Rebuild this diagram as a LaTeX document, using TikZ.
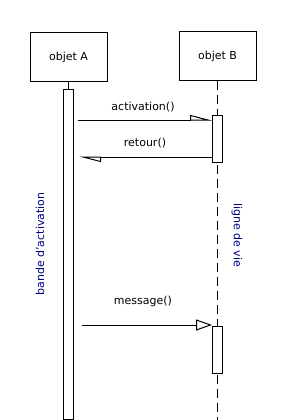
\documentclass[tikz,border=0pt]{standalone}
\usepackage{fontspec}
\setmainfont{DejaVu Sans}
\usetikzlibrary{arrows.meta}

\begin{document}
\begin{tikzpicture}[
    x=1pt, y=-1pt,
    font=\fontsize{11}{13}\selectfont,
    objet/.style={rectangle, draw, line width=1pt, minimum width=77pt, minimum height=48pt},
    bande/.style={rectangle, draw, fill=white, line width=1pt, minimum width=10pt, inner sep=0pt},
    vie/.style={line width=1pt, dash pattern=on 9pt off 5pt},
    appel/.style={line width=1pt, -{Triangle[open, left, length=20pt, width=10pt]}},
    asynch/.style={line width=1pt, -{Triangle[open, length=16pt, width=11pt]}},
    note/.style={text=blue!50!black}
]
    \useasboundingbox (0,0) rectangle (289,420);

    % --- Objects ---
    \node[objet] (objA) at (68.5, 57) {objet A};
    \node[objet] (objB) at (217.5, 56) {objet B};

    % --- Lifelines ---
    \coordinate (finB) at (217.5, 420);
    \draw[vie] (objB.south) -- (finB);

    % --- Activation bars ---
    \node[bande, minimum height=330pt] (barA)  at (68, 254) {};
    \node[bande, minimum height=47pt]  (barB1) at (217.5, 138.5) {};
    \node[bande, minimum height=47pt]  (barB2) at (217.5, 349.5) {};
    \draw[vie] (objA.south -| barA.north) -- (barA.north);

    % --- Messages ---
    \coordinate (s1) at (78, 120);
    \coordinate (r1) at (79, 157);
    \coordinate (s2) at (82, 325);
    \draw[appel]  (s1) -- (s1 -| barB1.west);
    \draw[appel]  (r1 -| barB1.west) -- (r1);
    \draw[asynch] (s2) -- (s2 -| barB2.west);

    \node (lact) at (143, 107) {activation()};
    \node (lret) at (145, 143) {retour()};
    \node (lmsg) at (143, 301) {message()};

    % --- Notes ---
    \node[note, rotate=90]  (nbande) at (40, 244) {bande d'activation};
    \node[note, rotate=-90] (nvie)   at (237, 235) {ligne de vie};
\end{tikzpicture}
\end{document}
